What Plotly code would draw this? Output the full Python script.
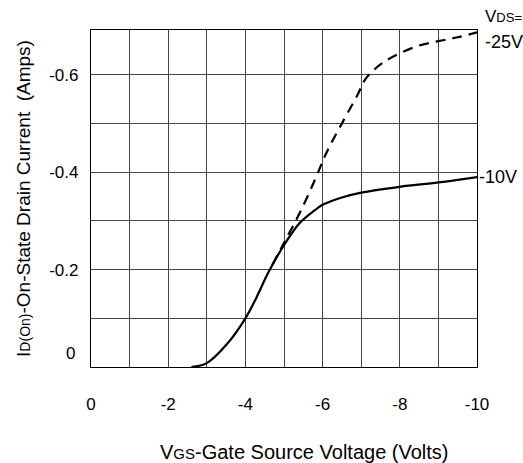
import plotly.graph_objects as go

# Data
vgs_10 = [-2.6, -3.0, -3.5, -4.0, -4.3, -4.6, -5.0, -5.4, -5.8, -6.0, -6.5, -7.0, -8.0, -9.0, -10.0]
id_10 = [0.0, -0.008, -0.045, -0.10, -0.145, -0.195, -0.25, -0.295, -0.322, -0.333, -0.348, -0.358, -0.37, -0.379, -0.39]

vgs_25 = [-4.7, -5.0, -5.4, -5.8, -6.1, -6.45, -6.9, -7.1, -7.3, -7.6, -8.0, -8.5, -9.0, -9.5, -10.0]
id_25 = [-0.21, -0.255, -0.315, -0.384, -0.44, -0.493, -0.558, -0.59, -0.608, -0.627, -0.644, -0.66, -0.669, -0.677, -0.687]

x_grid = [0, -1, -2, -3, -4, -5, -6, -7, -8, -9, -10]
x_labels = ["0", "", "-2", "", "-4", "", "-6", "", "-8", "", "-10"]
y_grid = [-0.1, -0.2, -0.3, -0.4, -0.5, -0.6]
y_labels = ["", "-0.2", "", "-0.4", "", "-0.6"]

FONT = "Liberation Sans, Arial, sans-serif"

fig = go.Figure()
fig.add_trace(go.Scatter(x=vgs_25, y=id_25, mode="lines",
                         line=dict(color="black", width=2.2, dash="10px,7px", shape="spline"),
                         showlegend=False))
fig.add_trace(go.Scatter(x=vgs_10, y=id_10, mode="lines",
                         line=dict(color="black", width=2.2, shape="spline"),
                         showlegend=False))

fig.update_layout(
    width=523, height=463,
    margin=dict(l=91, r=46, t=30, b=96),
    paper_bgcolor="white", plot_bgcolor="white",
    font=dict(family=FONT, size=17, color="black"),
    xaxis=dict(range=[0, -10], showgrid=True, gridcolor="#444", gridwidth=1,
               tickvals=x_grid, ticktext=x_labels,
               showline=True, linecolor="black", linewidth=1.2, mirror=True,
               zeroline=False, ticks="", ticklabelstandoff=21, automargin=False),
    yaxis=dict(range=[0, -0.692], showgrid=True, gridcolor="#444", gridwidth=1,
               tickvals=y_grid, ticktext=y_labels,
               showline=True, linecolor="black", linewidth=1.2, mirror=True,
               zeroline=False, ticks="", ticklabelstandoff=8, automargin=False,
               title=dict(text="I<span style='font-size:14px'>D(On)</span>-On-State Drain Current  (Amps)",
                          font=dict(size=19), standoff=13)),
)

# x-axis title (placed as in the reference, right of centre)
fig.add_annotation(x=0.552, y=-0.252, xref="paper", yref="paper",
                   text="V<span style='font-size:15px'>GS</span>-Gate Source Voltage (Volts)",
                   showarrow=False, xanchor="center", yanchor="middle", font=dict(size=20))
fig.add_annotation(x=0, y=0, xref="x", yref="y", text="0", showarrow=False,
                   xanchor="right", xshift=-14, yshift=14, font=dict(size=17))
fig.add_annotation(x=1.015, y=1.04, xref="paper", yref="paper",
                   text="V<span style='font-size:13px'>DS=</span>",
                   showarrow=False, xanchor="left", yanchor="middle", font=dict(size=17))
fig.add_annotation(x=1.015, y=0.965, xref="paper", yref="paper", text="-25V",
                   showarrow=False, xanchor="left", yanchor="middle", font=dict(size=18))
fig.add_annotation(x=1.0, y=-0.39, xref="paper", yref="y", text="-10V",
                   showarrow=False, xanchor="left", yanchor="middle", font=dict(size=18))

fig.write_html("out.html", config={"displayModeBar": False},
               post_script="document.body.style.margin='0';")
